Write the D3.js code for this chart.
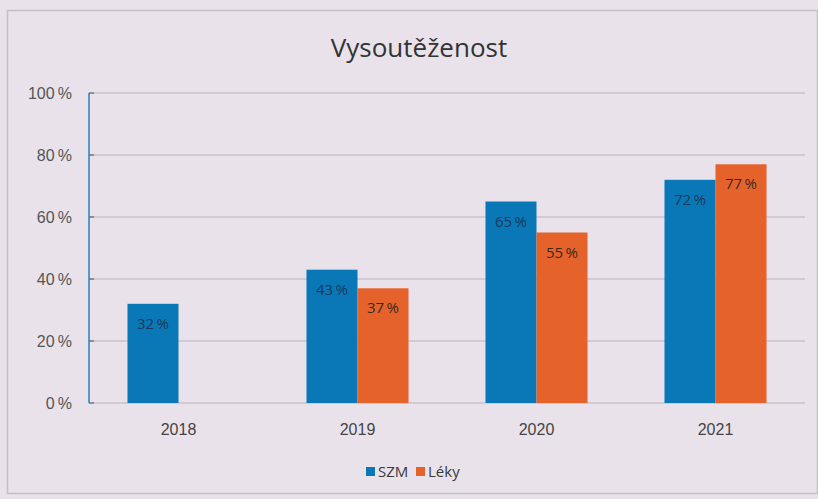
<!DOCTYPE html>
<html>
<head>
<meta charset="utf-8">
<script src="https://cdn.jsdelivr.net/npm/d3@7"></script>
<style>
  html, body { margin: 0; padding: 0; background: #e9e2ea; }
  svg { display: block; font-family: "Open Sans", "Noto Sans", sans-serif; }
</style>
</head>
<body>
<div id="chart"></div>
<script>
const years = ["2018", "2019", "2020", "2021"];
const seriesNames = ["SZM", "Léky"];
const szm = [32, 43, 65, 72];
const leky = [null, 37, 55, 77];
const yTicks = [0, 20, 40, 60, 80, 100];
const colors = ["#0a78b6", "#e6622b"];

const width = 818, height = 499;
const margin = { top: 93, right: 13, bottom: 96, left: 89 };

const svg = d3.select('#chart').append('svg')
    .attr('width', width)
    .attr('height', height);

svg.append('rect')
    .attr('x', 0).attr('y', 0).attr('width', width).attr('height', height)
    .attr('fill', '#e9e2ea');

// outer frame
svg.append('rect')
    .attr('x', 7.5).attr('y', 10.5)
    .attr('width', width - 8).attr('height', height - 16)
    .attr('fill', 'none')
    .attr('stroke', '#c4bec6')
    .attr('stroke-width', 1.5);

const x = d3.scaleBand()
    .domain(years)
    .range([margin.left, width - margin.right])
    .paddingInner(0.43)
    .paddingOuter(0.215);

const y = d3.scaleLinear()
    .domain([0, 100])
    .range([height - margin.bottom, margin.top]);

const x1 = d3.scaleBand()
    .domain(seriesNames)
    .range([0, x.bandwidth()]);

// gridlines
svg.append('g').selectAll('line')
    .data(yTicks)
    .enter().append('line')
    .attr('x1', margin.left)
    .attr('x2', width - margin.right)
    .attr('y1', d => y(d))
    .attr('y2', d => y(d))
    .attr('stroke', '#b8b3bb')
    .attr('stroke-width', 1.2);

// y axis
const yAxis = svg.append('g')
    .attr('transform', `translate(${margin.left},0)`)
    .call(d3.axisLeft(y).tickValues(yTicks).tickSize(0).tickPadding(17).tickFormat(d => d + '\u2009%'));
yAxis.select('.domain').remove();
yAxis.selectAll('text')
    .attr('fill', '#555')
    .style('font-size', '16px');

// x axis labels
const xAxis = svg.append('g')
    .attr('transform', `translate(0,${height - margin.bottom})`)
    .call(d3.axisBottom(x).tickSize(0).tickPadding(21));
xAxis.select('.domain').remove();
xAxis.selectAll('text')
    .attr('fill', '#444')
    .style('font-size', '16px');

// bars
const rows = years.map((yr, i) => ({ year: yr, values: [szm[i], leky[i]] }));

const groups = svg.append('g').selectAll('g')
    .data(rows)
    .enter().append('g')
    .attr('transform', d => `translate(${x(d.year)},0)`);

const cells = groups.selectAll('g')
    .data(d => d.values.map((v, j) => ({ name: seriesNames[j], value: v, j })).filter(e => e.value != null))
    .enter().append('g');

cells.append('rect')
    .attr('x', d => x1(d.name))
    .attr('width', x1.bandwidth())
    .attr('y', d => y(d.value))
    .attr('height', d => y(0) - y(d.value))
    .attr('fill', d => colors[d.j]);

cells.append('text')
    .attr('x', d => x1(d.name) + x1.bandwidth() / 2)
    .attr('y', d => y(d.value) + 25)
    .attr('text-anchor', 'middle')
    .attr('fill', d => d.j === 0 ? '#173a5c' : '#3b2a22')
    .style('font-size', '15px')
    .text(d => d.value + '\u2009%');

// y axis line (blue)
svg.append('line')
    .attr('x1', margin.left).attr('x2', margin.left)
    .attr('y1', y(100)).attr('y2', y(0))
    .attr('stroke', '#2a7fb8')
    .attr('stroke-width', 1.5);
svg.append('g').selectAll('line')
    .data(yTicks)
    .enter().append('line')
    .attr('x1', margin.left).attr('x2', margin.left + 5)
    .attr('y1', d => y(d)).attr('y2', d => y(d))
    .attr('stroke', '#5a6a7a')
    .attr('stroke-width', 1.2);

// title
svg.append('text')
    .attr('x', 419)
    .attr('y', 57)
    .attr('text-anchor', 'middle')
    .attr('fill', '#333')
    .style('font-size', '26px')
    .text('Vysoutěženost');

// legend
const legend = svg.append('g').attr('transform', 'translate(366,472)');
const lg = legend.selectAll('g')
    .data(seriesNames)
    .enter().append('g')
    .attr('transform', (d, i) => `translate(${i * 50},0)`);
lg.append('rect')
    .attr('x', 0).attr('y', -5)
    .attr('width', 9).attr('height', 9)
    .attr('fill', (d, i) => colors[i]);
lg.append('text')
    .attr('x', 12)
    .attr('y', 5)
    .attr('fill', '#3a3a3a')
    .style('font-size', '15px')
    .text(d => d);
</script>
</body>
</html>
